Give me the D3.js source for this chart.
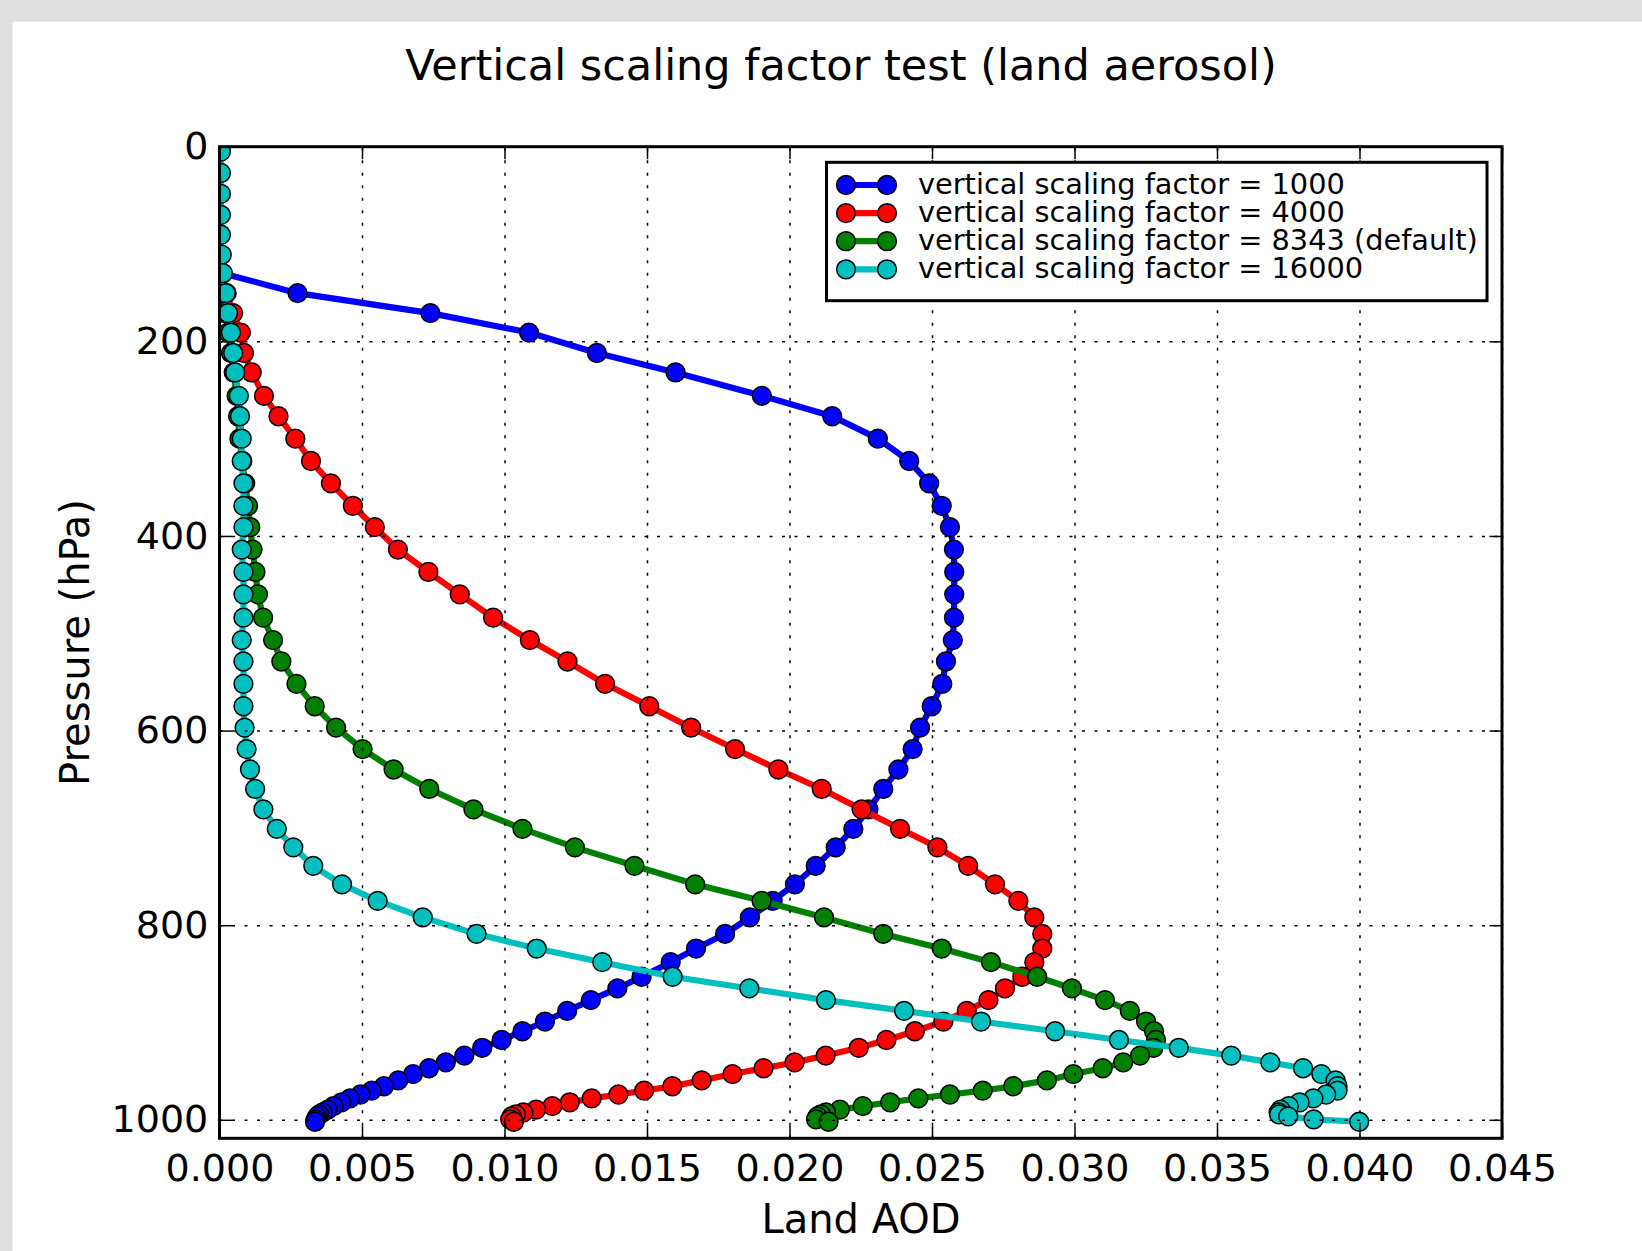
<!DOCTYPE html>
<html><head><meta charset="utf-8">
<script src="https://cdn.jsdelivr.net/npm/d3@7"></script>
<style>
html,body{margin:0;padding:0;background:#e0e0e0;}
svg{display:block;}
text{font-family:"DejaVu Sans",sans-serif;fill:#000;}
</style>
</head><body>
<svg id="chart" width="1642" height="1251"></svg>
<script>
// ---------------- data ----------------
const title = "Vertical scaling factor test (land aerosol)";
const xLabel = "Land AOD";
const yLabel = "Pressure (hPa)";

const xTicks = [0, 0.005, 0.010, 0.015, 0.020, 0.025, 0.030, 0.035, 0.040, 0.045];
const xTickLabels = ["0.000","0.005","0.010","0.015","0.020","0.025","0.030","0.035","0.040","0.045"];
const yTicks = [0, 200, 400, 600, 800, 1000];
const yTickLabels = ["0","200","400","600","800","1000"];

const seriesNames = [
  "vertical scaling factor = 1000",
  "vertical scaling factor = 4000",
  "vertical scaling factor = 8343 (default)",
  "vertical scaling factor = 16000"
];
const seriesColors = ["#0000ff", "#ff0000", "#008000", "#00bfbf"];

// pressure levels (hPa)
const pressure = [5, 27, 48.5, 70, 90.5, 111, 130, 150.5, 171, 191,
  212, 232, 256, 277, 300, 323, 346, 369, 391, 414,
  437, 460, 484, 507, 529, 552, 575, 597, 619, 640,
  660, 681, 701, 720, 739, 758, 775, 792, 809, 824,
  838, 853, 865, 877, 888, 899, 909, 918, 926, 934,
  941, 947, 953, 959.5, 965.5, 970, 974, 978, 982, 986,
  989.5, 992.5, 994.5, 996.5, 999.5, 1002];

const aod1000 = [0, 0, 0, 0, 0, 0, 0.0001, 0.00274, 0.0074, 0.01086,
  0.01324, 0.0160, 0.01903, 0.0215, 0.0231, 0.0242, 0.0249, 0.02534, 0.02563, 0.02577,
  0.02578, 0.02578, 0.02577, 0.02573, 0.02549, 0.02536, 0.02499, 0.02458, 0.02432, 0.02382,
  0.02329, 0.02277, 0.02224, 0.02162, 0.02092, 0.02019, 0.01941, 0.01861, 0.01774, 0.01672,
  0.01583, 0.01481, 0.01396, 0.01303, 0.01220, 0.01142, 0.01063, 0.00990, 0.00922, 0.00859,
  0.00794, 0.00735, 0.00679, 0.00627, 0.00577, 0.00534, 0.00495, 0.00458, 0.00428, 0.00400,
  0.00380, 0.00362, 0.00350, 0.00343, 0.00338, 0.00335];

const aod4000 = [0, 0, 0, 0, 0, 0, 0.0001, 0.00025, 0.00048, 0.00075,
  0.00086, 0.00113, 0.00156, 0.00207, 0.00266, 0.00321, 0.00391, 0.00468, 0.00545, 0.00626,
  0.00733, 0.00843, 0.0096, 0.01089, 0.01221, 0.01353, 0.01508, 0.01655, 0.01809, 0.01961,
  0.02113, 0.02253, 0.02388, 0.02519, 0.02627, 0.02721, 0.02803, 0.02859, 0.02887, 0.02887,
  0.02859, 0.02817, 0.02756, 0.02698, 0.02622, 0.02540, 0.02440, 0.02340, 0.02243, 0.02127,
  0.02018, 0.01909, 0.01800, 0.01692, 0.01589, 0.01490, 0.01400, 0.01306, 0.01229, 0.01168,
  0.01111, 0.01066, 0.01040, 0.01025, 0.01020, 0.01033];

const aod8343 = [0, 0, 0, 0, 0, 0, 0.00005, 0.0001, 0.0002, 0.0003,
  0.0004, 0.0005, 0.0006, 0.00065, 0.0007, 0.0008, 0.0009, 0.001, 0.00108, 0.00116,
  0.00126, 0.00135, 0.00153, 0.00188, 0.00217, 0.0027, 0.00334, 0.00409, 0.00502, 0.00611,
  0.00736, 0.00891, 0.01063, 0.01247, 0.01456, 0.01669, 0.01902, 0.02121, 0.02329, 0.02534,
  0.02707, 0.02869, 0.02991, 0.03107, 0.03194, 0.03251, 0.03279, 0.03286, 0.03277, 0.0323,
  0.03171, 0.03099, 0.02996, 0.02903, 0.02785, 0.02678, 0.02563, 0.02452, 0.02353, 0.02257,
  0.02177, 0.02128, 0.0211, 0.02098, 0.02093, 0.02137];

const aod16000 = [0.00005, 0.00005, 0.00005, 0.00005, 0.00005, 0.00008, 0.00012, 0.00022, 0.0003, 0.0004,
  0.00048, 0.00055, 0.00068, 0.00072, 0.00078, 0.00078, 0.00084, 0.00084, 0.00084, 0.00078,
  0.00084, 0.00084, 0.00084, 0.00078, 0.00084, 0.00084, 0.00084, 0.00088, 0.00095, 0.00107,
  0.00125, 0.00154, 0.00201, 0.00259, 0.00329, 0.0043, 0.00555, 0.00713, 0.00902, 0.01113,
  0.01343, 0.0159, 0.01859, 0.02128, 0.02402, 0.02672, 0.02932, 0.03156, 0.03366, 0.0355,
  0.03687, 0.03802, 0.03866, 0.03916, 0.03923, 0.03923, 0.03883, 0.03838, 0.0379, 0.03752,
  0.03723, 0.03716, 0.03718, 0.0375, 0.03839, 0.03999];

const seriesValues = [aod1000, aod4000, aod8343, aod16000];

// ---------------- layout ----------------
const W = 1642, H = 1251;
const plot = {left: 219.5, right: 1502, top: 146.7, bottom: 1138.3};
const svg = d3.select("#chart");

svg.append("rect").attr("x", 0).attr("y", 0).attr("width", W).attr("height", H).attr("fill", "#e0e0e0");
svg.append("rect").attr("x", 12.6).attr("y", 21.7).attr("width", W - 12.6).attr("height", H - 21.7).attr("fill", "#ffffff");

const x = d3.scaleLinear().domain([0, 0.045]).range([plot.left, plot.right]);
const y = d3.scaleLinear().domain([0, 1019]).range([plot.top, plot.bottom]);

svg.append("defs").append("clipPath").attr("id", "plotclip")
  .append("rect").attr("x", plot.left).attr("y", plot.top)
  .attr("width", plot.right - plot.left).attr("height", plot.bottom - plot.top);

// data
const gData = svg.append("g").attr("clip-path", "url(#plotclip)");
const line = d3.line().x(d => x(d[0])).y(d => y(d[1]));
const MR = 9.4;
seriesValues.forEach((vals, si) => {
  const pts = vals.map((v, i) => [v, pressure[i]]);
  const g = gData.append("g");
  g.append("path").datum(pts).attr("d", line)
    .attr("fill", "none").attr("stroke", seriesColors[si]).attr("stroke-width", 6.2)
    .attr("stroke-linejoin", "round");
  g.selectAll("circle").data(pts).join("circle")
    .attr("cx", d => x(d[0])).attr("cy", d => y(d[1])).attr("r", MR)
    .attr("fill", seriesColors[si]).attr("stroke", "#000").attr("stroke-width", 1.5);
});

// grid (drawn above data like classic matplotlib)
const gGrid = svg.append("g");
gGrid.append("g").attr("transform", `translate(0,${plot.bottom})`)
  .call(d3.axisBottom(x).tickValues(xTicks).tickSize(-(plot.bottom - plot.top)).tickFormat(""))
  .call(g => g.select(".domain").remove())
  .call(g => g.selectAll("line").attr("stroke", "#000").attr("stroke-width", 1.5).attr("stroke-dasharray", "3,9.5"));
gGrid.append("g").attr("transform", `translate(${plot.left},0)`)
  .call(d3.axisLeft(y).tickValues(yTicks).tickSize(-(plot.right - plot.left)).tickFormat(""))
  .call(g => g.select(".domain").remove())
  .call(g => g.selectAll("line").attr("stroke", "#000").attr("stroke-width", 1.5).attr("stroke-dasharray", "3,9.5"));

// axes with inward ticks
const TL = 12.5;
function styleAxis(g) {
  g.select(".domain").remove();
  g.selectAll(".tick line").attr("stroke", "#000").attr("stroke-width", 1.5);
  g.selectAll(".tick text").attr("font-family", "DejaVu Sans").attr("font-size", 38).attr("fill", "#000");
}
svg.append("g").attr("transform", `translate(0,${plot.bottom})`)
  .call(d3.axisBottom(x).tickValues(xTicks).tickFormat((d, i) => xTickLabels[i]).tickSizeInner(-TL).tickSizeOuter(0))
  .call(styleAxis)
  .call(g => g.selectAll(".tick text").attr("y", 42.4).attr("dy", 0));
svg.append("g").attr("transform", `translate(0,${plot.top})`)
  .call(d3.axisTop(x).tickValues(xTicks).tickFormat("").tickSizeInner(-TL).tickSizeOuter(0))
  .call(styleAxis);
svg.append("g").attr("transform", `translate(${plot.left},0)`)
  .call(d3.axisLeft(y).tickValues(yTicks).tickFormat((d, i) => yTickLabels[i]).tickSizeInner(-TL).tickSizeOuter(0))
  .call(styleAxis)
  .call(g => g.selectAll(".tick text").attr("x", -11.2).attr("dy", "0.32em"));
svg.append("g").attr("transform", `translate(${plot.right},0)`)
  .call(d3.axisRight(y).tickValues(yTicks).tickFormat("").tickSizeInner(-TL).tickSizeOuter(0))
  .call(styleAxis);

// spines
svg.append("rect").attr("x", plot.left).attr("y", plot.top)
  .attr("width", plot.right - plot.left).attr("height", plot.bottom - plot.top)
  .attr("fill", "none").attr("stroke", "#000").attr("stroke-width", 3);

// title & labels
svg.append("text").attr("x", 841).attr("y", 80).attr("text-anchor", "middle")
  .attr("font-size", 43).text(title);
svg.append("text").attr("x", 861).attr("y", 1233).attr("text-anchor", "middle")
  .attr("font-size", 40).text(xLabel);
svg.append("text").attr("transform", `translate(89,${(plot.top + plot.bottom) / 2}) rotate(-90)`)
  .attr("text-anchor", "middle").attr("font-size", 40).text(yLabel);

// legend
const lg = svg.append("g");
lg.append("rect").attr("x", 826.5).attr("y", 162.3).attr("width", 660.5).attr("height", 138.4)
  .attr("fill", "#fff").attr("stroke", "#000").attr("stroke-width", 3);
seriesNames.forEach((name, i) => {
  const ry = 185 + i * 28.1;
  lg.append("line").attr("x1", 846).attr("x2", 887).attr("y1", ry).attr("y2", ry)
    .attr("stroke", seriesColors[i]).attr("stroke-width", 6.2);
  [846, 887].forEach(cx => lg.append("circle").attr("cx", cx).attr("cy", ry).attr("r", MR)
    .attr("fill", seriesColors[i]).attr("stroke", "#000").attr("stroke-width", 1.5));
  lg.append("text").attr("x", 918).attr("y", ry + 8.5).attr("font-size", 28.8).text(name);
});
</script>
</body></html>
